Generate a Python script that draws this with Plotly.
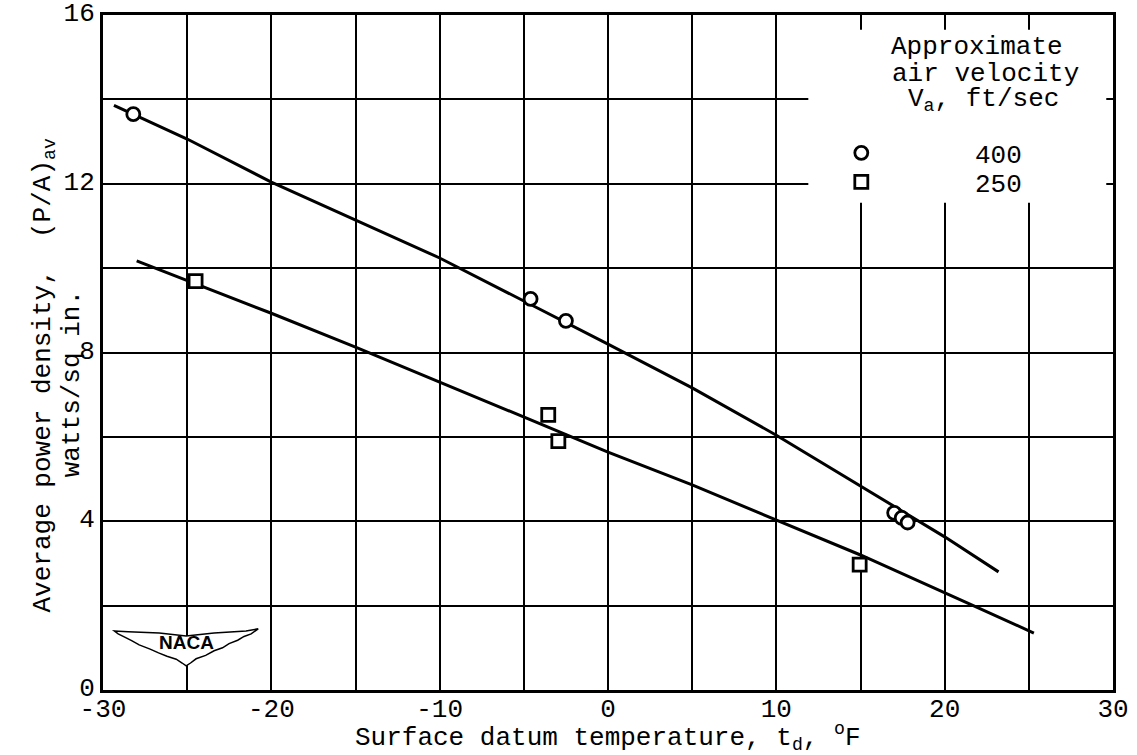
import plotly.graph_objects as go

# ---- data ----
temp_400 = [-28.2, -4.6, -2.5, 17.0, 17.45, 17.8]
power_400 = [13.65, 9.27, 8.75, 4.20, 4.08, 3.97]
temp_250 = [-24.5, -3.55, -2.95, 14.95]
power_250 = [9.69, 6.52, 5.90, 2.97]

fit_400_x = [-29.35, -25, -20, -10, -5, 0, 5, 10, 20, 23.2]
fit_400_y = [13.86, 13.06, 12.04, 10.24, 9.22, 8.20, 7.16, 6.04, 3.63, 2.80]
fit_250_x = [-28.0, -20, -15, -10, -5, 0, 5, 15, 21.7, 25.3]
fit_250_y = [10.17, 8.93, 8.13, 7.30, 6.47, 5.64, 4.86, 3.20, 2.00, 1.35]

x_ticks = [-30, -20, -10, 0, 10, 20, 30]
x_ticktext = ["-30", "-20", "-10", "0", "10", "20", "30"]
y_ticks = [0, 4, 8, 12, 16]
y_ticktext = ["0", "4", "8", "12", "16"]

FONT = "Liberation Mono"
fig = go.Figure()

fig.add_trace(go.Scatter(x=fit_400_x, y=fit_400_y, mode="lines",
                         line=dict(color="black", width=3), showlegend=False, hoverinfo="skip"))
fig.add_trace(go.Scatter(x=fit_250_x, y=fit_250_y, mode="lines",
                         line=dict(color="black", width=3), showlegend=False, hoverinfo="skip"))
fig.add_trace(go.Scatter(x=temp_400, y=power_400, mode="markers", name="\u00a0" * 6 + "400",
                         legend="legend",
                         marker=dict(symbol="circle", size=13, color="white",
                                     line=dict(color="black", width=2.8))))
fig.add_trace(go.Scatter(x=temp_250, y=power_250, mode="markers", name="\u00a0" * 6 + "250",
                         legend="legend2",
                         marker=dict(symbol="square", size=13, color="white",
                                     line=dict(color="black", width=2.8))))

# white box behind the legend (covers grid lines)
fig.add_shape(type="rect", xref="x", yref="y", x0=11.9, x1=29.6, y0=11.55, y1=15.65,
              fillcolor="white", line=dict(width=0), layer="between")

# NACA wing logo
wing = ("M -29.33,1.40 L -28.5,1.38 L -26.66,1.35 L -25.06,1.28 L -23.40,1.35 "
        "L -21.5,1.40 L -20.78,1.45 L -21.2,1.33 L -21.62,1.27 L -22.0,1.18 L -22.51,1.10 "
        "L -22.9,1.00 L -23.40,0.93 L -23.9,0.82 L -24.47,0.74 L -24.8,0.64 L -25.06,0.57 "
        "L -25.3,0.64 L -25.65,0.73 L -26.2,0.80 L -26.7,0.88 L -27.2,0.97 L -27.85,1.07 "
        "L -28.3,1.17 L -28.74,1.26 L -29.1,1.33 Z")
fig.add_shape(type="path", xref="x", yref="y", path=wing, fillcolor="white",
              line=dict(color="black", width=1.5), layer="above")
fig.add_annotation(x=-25.06, y=1.12, xref="x", yref="y", text="<b>NACA</b>", showarrow=False,
                   font=dict(family="Liberation Sans", size=19, color="black"))

# legend header
for txt, xx, yy in [("Approximate", 21.9, 15.24), ("air velocity", 22.4, 14.6),
                    ("V<sub>a</sub>, ft/sec", 22.3, 13.98)]:
    fig.add_annotation(x=xx, y=yy, xref="x", yref="y", text=txt, showarrow=False,
                       font=dict(family=FONT, size=26, color="black"))

# axis titles
fig.add_annotation(x=0, y=-0.069, xref="x", yref="paper", yanchor="middle",
                   text="Surface datum temperature, t<sub>d</sub>, <sup>o</sup>F",
                   showarrow=False, font=dict(family=FONT, size=26, color="black"))
fig.add_annotation(x=-0.0762, y=0.466, xref="paper", yref="paper", textangle=-90,
                   text="Average power density,  (P/A)<sub>av</sub>", showarrow=False,
                   font=dict(family=FONT, size=26, color="black"))
fig.add_annotation(x=-0.0475, y=0.453, xref="paper", yref="paper", textangle=-90,
                   text="watts/sq in.", showarrow=False,
                   font=dict(family=FONT, size=26, color="black"))

legend_common = dict(xanchor="left", yanchor="middle", bgcolor="rgba(0,0,0,0)", borderwidth=0,
                     font=dict(family=FONT, size=26, color="black"))

fig.update_layout(
    width=1137, height=755,
    margin=dict(l=103, r=24, t=15, b=65, autoexpand=False),
    paper_bgcolor="white", plot_bgcolor="white",
    font=dict(family=FONT, size=26, color="black"),
    showlegend=True,
    legend=dict(x=0.731, y=0.7956, **legend_common),
    legend2=dict(x=0.731, y=0.7526, **legend_common),
    xaxis=dict(range=[-30, 30], tickvals=x_ticks, ticktext=x_ticktext, automargin=False,
               showgrid=True, gridcolor="black", gridwidth=2,
               minor=dict(dtick=5, tick0=0, showgrid=True, gridcolor="black", gridwidth=2),
               showline=True, linecolor="black", linewidth=3, mirror=True,
               zeroline=False, ticks="", ticklabelstandoff=-7, ticklabeloverflow="allow"),
    yaxis=dict(range=[0, 16], tickvals=y_ticks, ticktext=y_ticktext, automargin=False,
               showgrid=True, gridcolor="black", gridwidth=2,
               minor=dict(dtick=2, tick0=0, showgrid=True, gridcolor="black", gridwidth=2),
               showline=True, linecolor="black", linewidth=3, mirror=True,
               zeroline=False, ticks="", ticklabelstandoff=0, ticklabelshift=-3,
               ticklabeloverflow="allow"),
)

# remove the browser's default 8px body margin so the figure fills the window exactly
fig.write_html("out.html", config={"displayModeBar": False},
               post_script="document.body.style.margin='0px';")
